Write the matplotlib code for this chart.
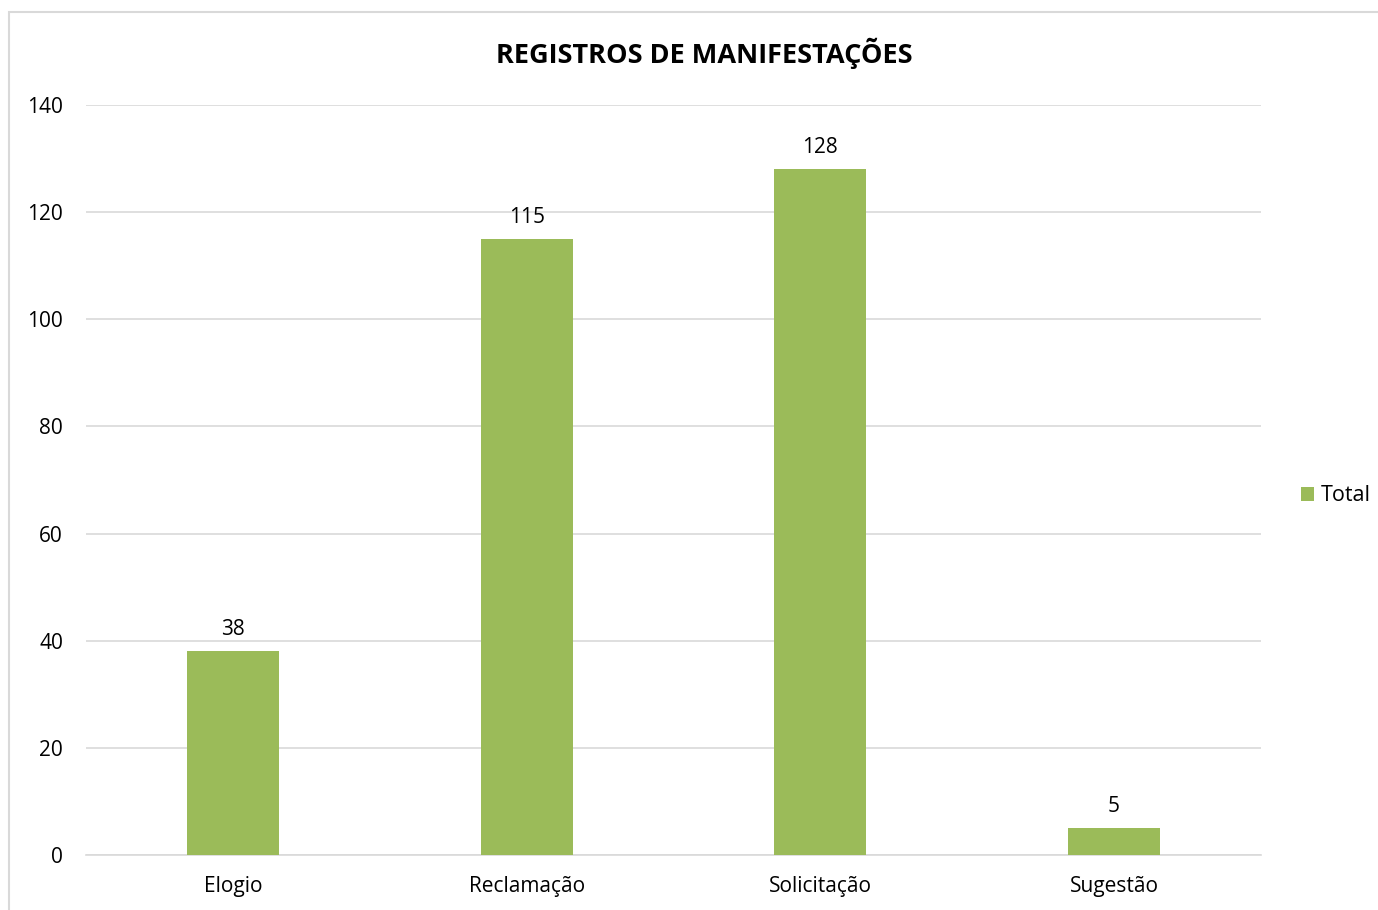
import matplotlib
matplotlib.use("Agg")
import matplotlib.pyplot as plt
from matplotlib.patches import Rectangle

categories = ["Elogio", "Reclamação", "Solicitação", "Sugestão"]
values = [38, 115, 128, 5]
yticks = [0, 20, 40, 60, 80, 100, 120, 140]
title = "REGISTROS DE MANIFESTAÇÕES"
series_name = "Total"

plt.rcParams['font.family'] = ['Open Sans', 'DejaVu Sans']

W, H = 1378, 910
fig = plt.figure(figsize=(W/100, H/100), dpi=100)
fig.patches.append(Rectangle((9/W, -0.2), 1.2, 1.2 - 12/H, transform=fig.transFigure,
                             fill=False, edgecolor='#d9d9d9', linewidth=1.5))
ax = fig.add_axes([86/W, 1 - 855/H, (1261-86)/W, (855-105)/H])
x = range(len(categories))
bars = ax.bar(x, values, width=0.313, color='#9BBB59', label=series_name, zorder=3)
ax.set_xlim(-0.5, 3.5)
ax.set_ylim(0, 140)
ax.set_yticks(yticks)
ax.set_xticks(list(x))
ax.set_xticklabels(categories)
ax.grid(axis='y', color='#d9d9d9', linewidth=1.2, zorder=0)
for s in ['top', 'right', 'left']:
    ax.spines[s].set_visible(False)
ax.spines['bottom'].set_color('#d9d9d9')
ax.spines['bottom'].set_linewidth(1.2)
ax.tick_params(axis='both', length=0, labelsize=15, colors='#000000')
ax.tick_params(axis='y', pad=16.5)
ax.tick_params(axis='x', pad=15)
for b, v in zip(bars, values):
    ax.annotate(str(v), (b.get_x() + b.get_width()/2, v), xytext=(0, 8),
                textcoords='offset points', ha='center', va='bottom', fontsize=15)
fig.text(704/W, 1 - 53/H, title, ha='center', va='center', fontsize=19.5, fontweight='bold')
ax.legend(loc='center left', bbox_to_anchor=(1301/W, 1 - 496/H), bbox_transform=fig.transFigure,
          frameon=False, fontsize=15.5, handlelength=0.6, handleheight=0.6, handletextpad=0.3,
          borderpad=0, borderaxespad=0)
fig.savefig("out.png", dpi=100)
